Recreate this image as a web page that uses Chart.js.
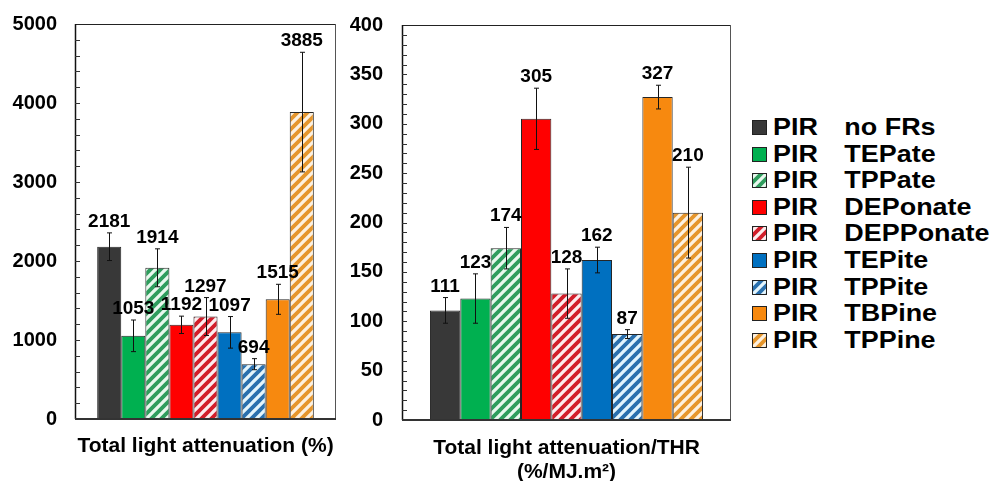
<!DOCTYPE html>
<html>
<head>
<meta charset="utf-8">
<script src="https://cdn.jsdelivr.net/npm/chart.js@4.4.1/dist/chart.umd.min.js"></script>
<style>
  body { margin: 0; background: #fff; width: 997px; height: 481px; position: relative; overflow: hidden; font-family: Arial, "Liberation Sans", sans-serif; }
  canvas.chart { position: absolute; top: 0; }
  #leftChart { left: 0; }
  #rightChart { left: 340px; }
  #legend { position: absolute; left: 752px; top: 114px; }
  .row { position: absolute; left: 0; height: 27px; display: flex; align-items: center; white-space: nowrap; }
  .row canvas { display: block; }
  .txt { font: bold 23px Arial, "Liberation Sans", sans-serif; color: #000; display: flex; margin-left: 6px; transform: scaleX(1.17); transform-origin: left center; }
  .pir { width: 61px; }
</style>
</head>
<body>
<canvas id="leftChart" class="chart" width="340" height="481"></canvas>
<canvas id="rightChart" class="chart" width="400" height="481"></canvas>
<div id="legend"></div>
<script>
// series (one bar each, same order in both panels)
const prefix = 'PIR';
const seriesNames = ['no FRs', 'TEPate', 'TPPate', 'DEPonate', 'DEPPonate', 'TEPite', 'TPPite', 'TBPine', 'TPPine'];

// left panel: total light attenuation (%)
const attenuation = [2181, 1053, 1914, 1192, 1297, 1097, 694, 1515, 3885];
const attenuationErr = [175, 200, 240, 110, 240, 200, 70, 190, 757];

// right panel: total light attenuation / THR (%/MJ.m2)
const attenuationThr = [111, 123, 174, 305, 128, 162, 87, 327, 210];
const attenuationThrErr = [13, 25, 21, 31, 25, 13, 4.5, 12, 46];

const leftTitle = ['Total light attenuation (%)'];
const rightTitle = ['Total light attenuation/THR', '(%/MJ.m²)'];

// styles
const barColors = ['#383838', '#00b050', '#2f9d5d', '#ff0000', '#d21e2a', '#0070c0', '#2a70ae', '#f7890f', '#e6962c'];
const hatchBg = [null, null, '#e9f8ee', null, '#fdecee', null, '#e4f5fc', null, '#fdf1e0'];

function makeTile(color, bg) {
    const c = document.createElement('canvas');
    c.width = 10; c.height = 10;
    const g = c.getContext('2d');
    g.fillStyle = bg;
    g.fillRect(0, 0, 10, 10);
    g.strokeStyle = color;
    g.lineWidth = 3.8;
    g.beginPath();
    g.moveTo(-5, 5); g.lineTo(5, -5);
    g.moveTo(0, 10); g.lineTo(10, 0);
    g.moveTo(5, 15); g.lineTo(15, 5);
    g.stroke();
    return c;
}

const patternCtx = document.createElement('canvas').getContext('2d');
const fills = barColors.map((col, i) => hatchBg[i] ? patternCtx.createPattern(makeTile(col, hatchBg[i]), 'repeat') : col);

function panelPlugin(errors, minorStep, titleLines, titleBaselines) {
    return {
        id: 'panel',
        afterDatasetsDraw(chart) {
            const ctx = chart.ctx;
            const a = chart.chartArea;
            const y = chart.scales.y;

            ctx.save();
            // frame
            ctx.strokeStyle = '#222';
            ctx.lineWidth = 1;
            ctx.beginPath();
            ctx.moveTo(a.left, a.top + 0.5); ctx.lineTo(a.right, a.top + 0.5);
            ctx.stroke();
            ctx.strokeStyle = '#555';
            ctx.beginPath();
            ctx.moveTo(a.right - 0.5, a.top); ctx.lineTo(a.right - 0.5, a.bottom);
            ctx.stroke();
            ctx.strokeStyle = '#111';
            ctx.lineWidth = 1.5;
            ctx.beginPath();
            ctx.moveTo(a.left + 0.5, a.top); ctx.lineTo(a.left + 0.5, a.bottom);
            ctx.stroke();
            ctx.strokeStyle = '#333';
            ctx.lineWidth = 2;
            ctx.beginPath();
            ctx.moveTo(a.left, a.bottom); ctx.lineTo(a.right, a.bottom);
            ctx.stroke();

            // inward minor ticks
            ctx.strokeStyle = '#333';
            ctx.lineWidth = 1;
            ctx.beginPath();
            for (let v = y.min + minorStep; v < y.max; v += minorStep) {
                const py = Math.round(y.getPixelForValue(v)) + 0.5;
                ctx.moveTo(a.left, py); ctx.lineTo(a.left + 5, py);
            }
            ctx.stroke();

            // error bars and value labels
            chart.data.datasets.forEach((ds, i) => {
                const bar = chart.getDatasetMeta(i).data[0];
                const v = ds.data[0];
                const top = y.getPixelForValue(v + errors[i]);
                const bot = y.getPixelForValue(v - errors[i]);
                const x = Math.round(bar.x) + 0.5;
                ctx.strokeStyle = '#111';
                ctx.lineWidth = 1;
                ctx.beginPath();
                ctx.moveTo(x, top); ctx.lineTo(x, bot);
                ctx.moveTo(x - 2.5, top); ctx.lineTo(x + 2.5, top);
                ctx.moveTo(x - 2.5, bot); ctx.lineTo(x + 2.5, bot);
                ctx.stroke();
            });
            ctx.fillStyle = '#000';
            ctx.font = 'bold 19px Arial, "Liberation Sans", sans-serif';
            ctx.textAlign = 'center';
            ctx.textBaseline = 'alphabetic';
            chart.data.datasets.forEach((ds, i) => {
                const bar = chart.getDatasetMeta(i).data[0];
                const v = ds.data[0];
                const top = y.getPixelForValue(v + errors[i]);
                ctx.fillText(String(v), bar.x, top - 6);
            });

            // axis title
            ctx.font = 'bold 21px Arial, "Liberation Sans", sans-serif';
            const cx = (a.left + a.right) / 2;
            titleLines.forEach((t, k) => ctx.fillText(t, cx, titleBaselines[k]));
            ctx.restore();
        }
    };
}

function buildChart(canvasId, values, errors, yMax, yStep, minorStep, titleLines, titleBaselines, geom) {
    return new Chart(document.getElementById(canvasId), {
        type: 'bar',
        data: {
            labels: [''],
            datasets: seriesNames.map((name, i) => ({
                label: prefix + ' ' + name,
                data: [values[i]],
                backgroundColor: fills[i],
                borderColor: '#262626',
                borderWidth: 1,
                categoryPercentage: 0.83,
                barPercentage: 1
            }))
        },
        options: {
            responsive: false,
            animation: false,
            devicePixelRatio: 1,
            layout: { padding: { top: geom.padTop, right: geom.padRight, bottom: 0, left: 0 } },
            plugins: { legend: { display: false }, tooltip: { enabled: false } },
            scales: {
                x: {
                    ticks: { display: false },
                    grid: { display: false, drawTicks: false },
                    border: { display: false },
                    afterFit(s) { s.height = geom.xHeight; }
                },
                y: {
                    min: 0,
                    max: yMax,
                    ticks: {
                        stepSize: yStep,
                        color: '#000',
                        padding: 0,
                        callback: v => String(v),
                        font: { family: 'Arial, "Liberation Sans", sans-serif', size: 20, weight: 'bold' }
                    },
                    // grid hidden; tickLength only spaces the labels from the axis
                    grid: { display: false, drawTicks: true, tickLength: geom.tickPad },
                    border: { display: false },
                    afterFit(s) { s.width = geom.axisWidth; }
                }
            }
        },
        plugins: [panelPlugin(errors, minorStep, titleLines, titleBaselines)]
    });
}

buildChart('leftChart', attenuation, attenuationErr, 5000, 1000, 200, leftTitle, [452],
    { axisWidth: 75, padRight: 4, padTop: 24, xHeight: 62, tickPad: 18 });
buildChart('rightChart', attenuationThr, attenuationThrErr, 400, 50, 10, rightTitle, [454, 478],
    { axisWidth: 62, padRight: 9, padTop: 25, xHeight: 61, tickPad: 19 });

// legend
const legend = document.getElementById('legend');
seriesNames.forEach((name, i) => {
    const row = document.createElement('div');
    row.className = 'row';
    row.style.top = (i * 26.6) + 'px';
    const sw = document.createElement('canvas');
    sw.width = 15; sw.height = 15;
    const g = sw.getContext('2d');
    g.fillStyle = fills[i];
    g.fillRect(0, 0, 15, 15);
    g.strokeStyle = '#222';
    g.lineWidth = 1;
    g.strokeRect(0.5, 0.5, 14, 14);
    row.appendChild(sw);
    const txt = document.createElement('div');
    txt.className = 'txt';
    txt.innerHTML = `<span class="pir">${prefix}</span><span>${name}</span>`;
    row.appendChild(txt);
    legend.appendChild(row);
});
</script>
</body>
</html>
